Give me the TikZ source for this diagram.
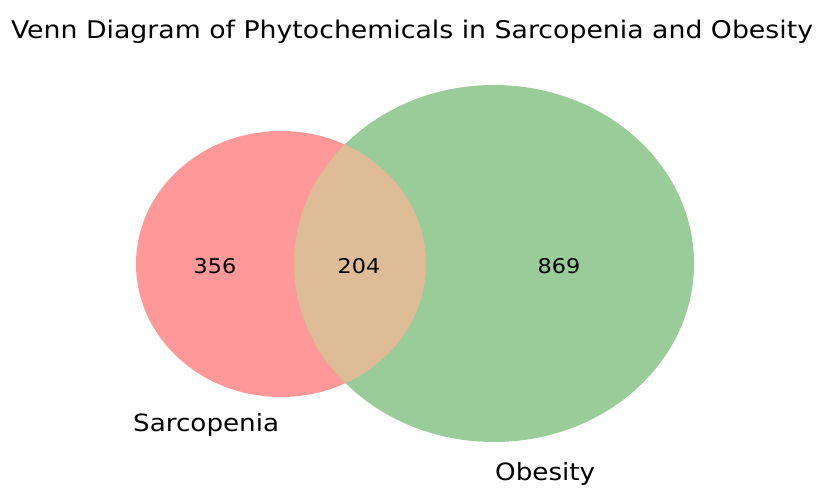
\documentclass[tikz,border=0pt]{standalone}
\usepackage{fontspec}
\setmainfont{DejaVu Sans}[FakeStretch=1.1]
\usepackage{tikz}
\definecolor{SarcRed}{HTML}{FF9999}
\definecolor{ObesGreen}{HTML}{99CC99}
\definecolor{MixTan}{HTML}{DFBC98}

\begin{document}
\begin{tikzpicture}[
x=1pt,y=-1pt,
count/.style={font=\fontsize{20.3}{21}\selectfont,inner sep=0pt},
setlabel/.style={font=\fontsize{23.8}{24}\selectfont,inner sep=0pt,anchor=base west}
]
\useasboundingbox[fill=white] (0,0) rectangle (829,501);
% the two sets
\fill[SarcRed] (281,264) ellipse [x radius=145,y radius=133];
\fill[ObesGreen] (494,263.5) ellipse [x radius=200,y radius=178.5];
\begin{scope}
\clip (281,264) ellipse [x radius=145,y radius=133];
\fill[MixTan] (494,263.5) ellipse [x radius=200,y radius=178.5];
\end{scope}
% counts
\node[count] (onlyS) at (215,266) {356};
\node[count] (both) at (359,266) {204};
\node[count] (onlyO) at (559,266) {869};
% labels
\node[setlabel] (labS) at (133,431) {Sarcopenia};
\node[setlabel] (labO) at (495,480) {Obesity};
\node[font=\fontsize{24.3}{25}\selectfont,inner sep=0pt,anchor=base] (title) at (412,38) {Venn Diagram of Phytochemicals in Sarcopenia and Obesity};
\end{tikzpicture}
\end{document}
